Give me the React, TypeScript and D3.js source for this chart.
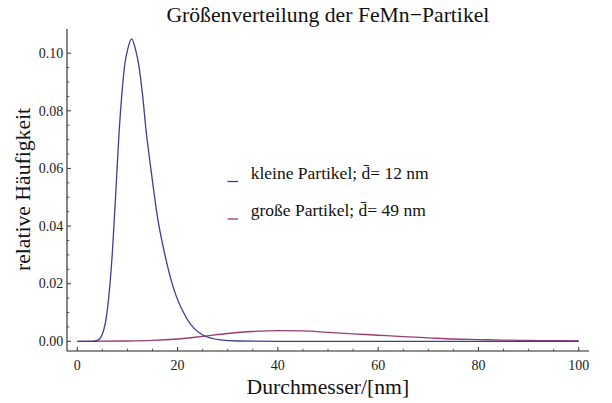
import React from "react";
import * as d3 from "d3";

const W = 612;
const H = 403;

// blue: kleine Partikel (x in nm, y relative frequency)
const smallX = [0, 3, 4, 5, 6, 7, 7.75, 8.35, 8.85, 9.5, 10.0, 10.85, 11.65, 12.2, 13.05, 13.7, 14.4, 15.15, 16, 17.35, 19, 21.8, 25, 28.5, 32, 40, 60, 80, 100];
const smallY = [0, 0, 0.0003, 0.0025, 0.011, 0.031, 0.054, 0.073, 0.085, 0.0965, 0.101, 0.105, 0.101, 0.0965, 0.085, 0.0734, 0.0635, 0.0535, 0.043, 0.031, 0.0195, 0.008, 0.0022, 0.0005, 0.0001, 0, 0, 0, 0];

// red: große Partikel
const largeX = [0, 10, 15, 20, 25, 30, 35, 40, 45, 50, 55, 60, 65, 70, 75, 80, 85, 90, 95, 100];
const largeY = [0, 0.0001, 0.0003, 0.0008, 0.0017, 0.0027, 0.0034, 0.0037, 0.0036, 0.0031, 0.0026, 0.0021, 0.0016, 0.0012, 0.0008, 0.0006, 0.0004, 0.0003, 0.0002, 0.0001];

const xMajor = [0, 20, 40, 60, 80, 100];
const yMajor = [0, 0.02, 0.04, 0.06, 0.08, 0.1];
const yMajorLabels = ["0.00", "0.02", "0.04", "0.06", "0.08", "0.10"];

const title = "Größenverteilung der FeMn\u2212Partikel";
const xLabel = "Durchmesser/[nm]";
const yLabel = "relative Häufigkeit";
const legendLabels = ["kleine Partikel; d\u0304= 12 nm", "große Partikel; d\u0304= 49 nm"];

const colors = ["#3d3d99", "#993d71"];

const FONT = "'Liberation Serif', serif";

export default function App() {
  const x = d3.scaleLinear().domain([-2.054, 102.05]).range([67, 589]);
  const y = d3.scaleLinear().domain([-0.00337, 0.1084]).range([351, 29]);

  const line = d3
    .line<[number, number]>()
    .x((d) => x(d[0]))
    .y((d) => y(d[1]))
    .curve(d3.curveMonotoneX);

  const smallData: [number, number][] = smallX.map((v, i) => [v, smallY[i]]);
  const largeData: [number, number][] = largeX.map((v, i) => [v, largeY[i]]);

  const xMinor = d3.range(0, 101, 5).filter((v) => !xMajor.includes(v));
  const yMinor = d3.range(0, 21).map((i) => i * 0.005).filter((v, i) => i % 4 !== 0);

  const axisColor = "#222";
  const tf = { fontFamily: FONT };

  return (
    <svg
      width={W}
      height={H}
      style={{ position: "absolute", left: 0, top: 0, background: "#fff" }}
    >
      <rect x={0} y={0} width={W} height={H} fill="#fff" />
      {/* axes */}
      <line x1={67} x2={67} y1={29} y2={351} stroke={axisColor} strokeWidth={1.1} />
      <line x1={67} x2={589} y1={351} y2={351} stroke={axisColor} strokeWidth={1.1} />
      {/* x ticks */}
      {xMajor.map((v) => (
        <g key={"xm" + v}>
          <line x1={x(v)} x2={x(v)} y1={351} y2={347} stroke={axisColor} strokeWidth={0.9} />
          <text x={x(v)} y={370} fontSize={14} textAnchor="middle" fill="#222" style={tf}>
            {v}
          </text>
        </g>
      ))}
      {xMinor.map((v) => (
        <line key={"xn" + v} x1={x(v)} x2={x(v)} y1={351} y2={348.6} stroke={axisColor} strokeWidth={0.7} />
      ))}
      {/* y ticks */}
      {yMajor.map((v, i) => (
        <g key={"ym" + v}>
          <line x1={67} x2={71} y1={y(v)} y2={y(v)} stroke={axisColor} strokeWidth={0.9} />
          <text x={63.3} y={y(v) + 4.7} fontSize={14} textAnchor="end" fill="#222" style={tf}>
            {yMajorLabels[i]}
          </text>
        </g>
      ))}
      {yMinor.map((v) => (
        <line key={"yn" + v} x1={67} x2={69.4} y1={y(v)} y2={y(v)} stroke={axisColor} strokeWidth={0.7} />
      ))}
      {/* curves */}
      <path d={line(largeData) || ""} fill="none" stroke={colors[1]} strokeWidth={1.3} />
      <path d={line(smallData) || ""} fill="none" stroke={colors[0]} strokeWidth={1.3} />
      {/* title and labels */}
      <text x={327.9} y={21.5} fontSize={21.7} textAnchor="middle" fill="#111" style={tf}>
        {title}
      </text>
      <text x={327.9} y={394} fontSize={21.7} textAnchor="middle" fill="#111" style={tf}>
        {xLabel}
      </text>
      <text
        transform={`translate(30,189.5) rotate(-90)`}
        fontSize={21.7}
        textAnchor="middle"
        fill="#111"
        style={tf}
      >
        {yLabel}
      </text>
      {/* legend */}
      {legendLabels.map((lab, i) => {
        const base = 178.5 + i * 37.5;
        return (
          <g key={"lg" + i}>
            <line x1={227.5} x2={238} y1={base + 3} y2={base + 3} stroke={colors[i]} strokeWidth={1.3} />
            <text x={250.7} y={base} fontSize={17.5} fill="#111" style={tf}>
              {lab}
            </text>
          </g>
        );
      })}
    </svg>
  );
}
